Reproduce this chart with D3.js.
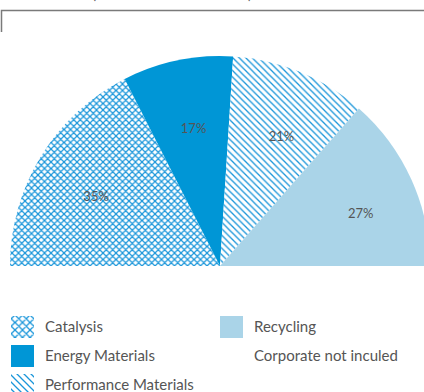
<!DOCTYPE html>
<html>
<head>
<meta charset="utf-8">
<script src="https://cdn.jsdelivr.net/npm/d3@7"></script>
<style>
  html, body { margin: 0; padding: 0; background: #fff; }
  svg { display: block; }
</style>
</head>
<body>
<svg id="chart" width="424" height="392"></svg>
<script>
// Segment shares of sales (Corporate not included)
const segments = ["Catalysis", "Energy Materials", "Performance Materials", "Recycling"];
const shares = [35, 17, 21, 27];
const fills = ["url(#hatchCross)", "#0096d6", "url(#hatchDiag)", "#aad4e8"];
const legendFills = ["url(#legCross)", "#0096d6", "url(#legDiag)", "#aad4e8"];
const footnote = "Corporate not inculed";

const W = 424, H = 392;
const svg = d3.select("#chart");
const defs = svg.append("defs");
const lineBlue = "#1a96da";

// Diagonal cross-hatch and single-diagonal patterns
function crossPattern(id, s, w) {
  const p = defs.append("pattern").attr("id", id).attr("patternUnits", "userSpaceOnUse")
    .attr("width", s).attr("height", s);
  p.append("rect").attr("width", s).attr("height", s).attr("fill", "#fff");
  p.append("path").attr("d", `M0,0L${s},${s}M${s},0L0,${s}M-1,${s-1}L1,${s+1}M${s-1},-1L${s+1},1M-1,1L1,-1M${s-1},${s+1}L${s+1},${s-1}`)
    .attr("stroke", lineBlue).attr("stroke-width", w);
}
function diagPattern(id, s, w) {
  const p = defs.append("pattern").attr("id", id).attr("patternUnits", "userSpaceOnUse")
    .attr("width", s).attr("height", s);
  p.append("rect").attr("width", s).attr("height", s).attr("fill", "#fff");
  p.append("path").attr("d", `M0,0L${s},${s}M-1,${s-1}L1,${s+1}M${s-1},-1L${s+1},1`)
    .attr("stroke", lineBlue).attr("stroke-width", w);
}
crossPattern("hatchCross", 6.5, 1.25);
diagPattern("hatchDiag", 6.5, 1.3);
crossPattern("legCross", 7.5, 1.3);
diagPattern("legDiag", 7, 1.3);

// Frame remnants and title brackets at the top
svg.append("text").attr("x", 92).attr("y", -1).attr("font-family", "Lato, sans-serif")
  .attr("font-size", 15).attr("fill", "#666").text("(");
svg.append("text").attr("x", 248).attr("y", -1).attr("font-family", "Lato, sans-serif")
  .attr("font-size", 15).attr("fill", "#666").text(")");
svg.append("path").attr("d", "M1.5,32V10.5H424").attr("fill", "none")
  .attr("stroke", "#7a7a7a").attr("stroke-width", 1.5);

// Half pie
const cx = 220, cy = 266, R = 210;
const pie = d3.pie().sort(null).startAngle(-Math.PI / 2).endAngle(Math.PI / 2);
const arcs = pie(shares);
const arc = d3.arc().innerRadius(0).outerRadius(R);
const labelArc = d3.arc().innerRadius(150).outerRadius(150);
const labelNudge = [4, 9];

const g = svg.append("g").attr("transform", `translate(${cx},${cy})`);
g.selectAll("path.slice").data(arcs).join("path")
  .attr("class", "slice")
  .attr("d", arc)
  .attr("fill", (d, i) => fills[i]);

g.selectAll("text.val").data(arcs).join("text")
  .attr("class", "val")
  .attr("transform", d => {
    const [x, y] = labelArc.centroid(d);
    return `translate(${x + labelNudge[0]},${y + labelNudge[1]})`;
  })
  .attr("text-anchor", "middle").attr("dy", "0.35em")
  .attr("font-family", "Lato, sans-serif").attr("font-size", 13)
  .attr("fill", "#555")
  .text((d, i) => shares[i] + "%");

// Legend
const legendPos = [[11, 316], [11, 345], [11, 374], [220, 316]];
const leg = svg.append("g");
segments.forEach((name, i) => {
  const [x, y] = legendPos[i];
  leg.append("rect").attr("x", x).attr("y", y).attr("width", 23).attr("height", 22)
    .attr("fill", legendFills[i]);
  leg.append("text").attr("x", x + 34).attr("y", y + 16)
    .attr("font-family", "Lato, sans-serif").attr("font-size", 15).attr("fill", "#555")
    .text(name);
});
leg.append("text").attr("x", 254).attr("y", 361)
  .attr("font-family", "Lato, sans-serif").attr("font-size", 15).attr("fill", "#555")
  .text(footnote);
</script>
</body>
</html>
